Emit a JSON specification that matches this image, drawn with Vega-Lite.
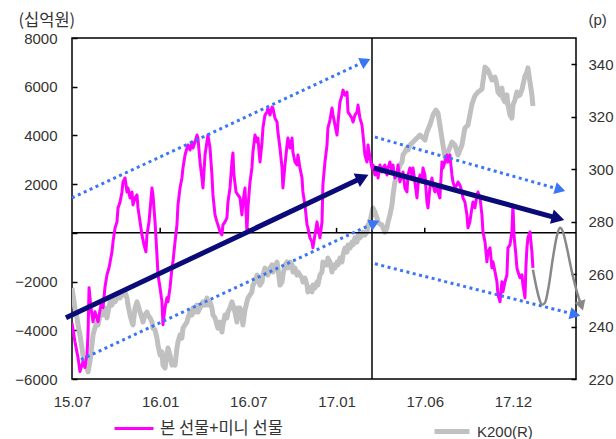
{
"$schema":"https://vega.github.io/schema/vega-lite/v6.json",
"width":504,"height":341,"autosize":"none",
"padding":{"left":72,"top":38,"right":40,"bottom":60},
"background":"white",
"config":{
"view":{"stroke":"black","strokeWidth":1.5},
"axis":{"labelFont":"Liberation Sans","labelFontSize":15,"labelColor":"#333","grid":false,"domain":false,"tickColor":"black","tickWidth":1.5,"titleFontWeight":"normal","titleFont":"Noto Sans CJK KR","titleFontSize":16.5,"titleColor":"#333"},
"legend":{"orient":"none","direction":"horizontal","symbolType":"stroke","labelColor":"#333","labelOffset":5,"padding":0,"labelLimit":300}
},
"datasets":{
"mag":[{"t":0,"v":-3700},{"t":0.2,"v":-4467},{"t":0.41,"v":-5123},{"t":0.54,"v":-5696},{"t":0.75,"v":-5286},{"t":0.88,"v":-5532},{"t":1.02,"v":-5000},{"t":1.09,"v":-4180},{"t":1.16,"v":-2254},{"t":1.29,"v":-3074},{"t":1.43,"v":-3647},{"t":1.56,"v":-3237},{"t":1.77,"v":-3647},{"t":1.97,"v":-2951},{"t":2.11,"v":-3074},{"t":2.24,"v":-2254},{"t":2.38,"v":-1721},{"t":2.52,"v":-1434},{"t":2.72,"v":-779},{"t":2.79,"v":-369},{"t":2.93,"v":205},{"t":3.06,"v":451},{"t":3.13,"v":1025},{"t":3.27,"v":1270},{"t":3.4,"v":1680},{"t":3.47,"v":2090},{"t":3.61,"v":2254},{"t":3.74,"v":1680},{"t":3.81,"v":1844},{"t":3.95,"v":1434},{"t":4.08,"v":1680},{"t":4.15,"v":1147},{"t":4.29,"v":1434},{"t":4.42,"v":1557},{"t":4.49,"v":1025},{"t":4.63,"v":451},{"t":4.76,"v":-82},{"t":4.9,"v":-492},{"t":5.03,"v":-779},{"t":5.1,"v":-82},{"t":5.24,"v":451},{"t":5.44,"v":1844},{"t":5.51,"v":1557},{"t":5.65,"v":451},{"t":5.78,"v":-902},{"t":5.85,"v":-1721},{"t":5.99,"v":-2254},{"t":6.12,"v":-2828},{"t":6.19,"v":-3770},{"t":6.33,"v":-3074},{"t":6.46,"v":-2664},{"t":6.53,"v":-2828},{"t":6.67,"v":-2254},{"t":6.8,"v":-1434},{"t":6.87,"v":-1188},{"t":7.01,"v":-369},{"t":7.14,"v":328},{"t":7.21,"v":1147},{"t":7.35,"v":1844},{"t":7.48,"v":2254},{"t":7.55,"v":2664},{"t":7.69,"v":3196},{"t":7.82,"v":3483},{"t":7.89,"v":3606},{"t":8.03,"v":3401},{"t":8.16,"v":3729},{"t":8.23,"v":3483},{"t":8.37,"v":3729},{"t":8.5,"v":4016},{"t":8.57,"v":3893},{"t":8.71,"v":2910},{"t":8.84,"v":2254},{"t":8.91,"v":1844},{"t":9.05,"v":3196},{"t":9.18,"v":3729},{"t":9.25,"v":4016},{"t":9.39,"v":3483},{"t":9.52,"v":2377},{"t":9.59,"v":1557},{"t":9.73,"v":738},{"t":9.86,"v":451},{"t":9.93,"v":328},{"t":10.07,"v":41},{"t":10.2,"v":-82},{"t":10.27,"v":328},{"t":10.41,"v":451},{"t":10.54,"v":615},{"t":10.61,"v":1270},{"t":10.75,"v":1844},{"t":10.88,"v":2910},{"t":10.95,"v":3278},{"t":11.02,"v":2377},{"t":11.16,"v":1680},{"t":11.29,"v":1557},{"t":11.43,"v":1434},{"t":11.56,"v":738},{"t":11.63,"v":1270},{"t":11.77,"v":1844},{"t":11.9,"v":41},{"t":11.97,"v":1025},{"t":12.11,"v":2090},{"t":12.24,"v":2664},{"t":12.31,"v":3319},{"t":12.45,"v":4016},{"t":12.59,"v":3729},{"t":12.65,"v":3893},{"t":12.79,"v":2910},{"t":12.93,"v":3729},{"t":12.99,"v":4303},{"t":13.13,"v":4836},{"t":13.27,"v":4959},{"t":13.33,"v":5123},{"t":13.47,"v":4836},{"t":13.61,"v":5163},{"t":13.67,"v":5123},{"t":13.81,"v":4713},{"t":13.95,"v":4549},{"t":14.01,"v":4139},{"t":14.15,"v":3483},{"t":14.29,"v":2664},{"t":14.35,"v":1844},{"t":14.49,"v":2787},{"t":14.63,"v":3606},{"t":14.69,"v":3893},{"t":14.83,"v":3483},{"t":14.97,"v":3893},{"t":15.03,"v":3319},{"t":15.17,"v":2910},{"t":15.31,"v":2787},{"t":15.37,"v":3196},{"t":15.51,"v":2664},{"t":15.65,"v":2254},{"t":15.71,"v":1680},{"t":15.85,"v":1147},{"t":15.99,"v":328},{"t":16.05,"v":205},{"t":16.19,"v":-205},{"t":16.33,"v":-369},{"t":16.39,"v":-615},{"t":16.53,"v":-82},{"t":16.67,"v":451},{"t":16.73,"v":205},{"t":16.87,"v":-205},{"t":17.01,"v":451},{"t":17.07,"v":1967},{"t":17.21,"v":2910},{"t":17.35,"v":3606},{"t":17.41,"v":4303},{"t":17.55,"v":4631},{"t":17.69,"v":5123},{"t":17.76,"v":4836},{"t":17.89,"v":4426},{"t":18.03,"v":4016},{"t":18.1,"v":4549},{"t":18.23,"v":5368},{"t":18.37,"v":5655},{"t":18.44,"v":5860},{"t":18.57,"v":5655},{"t":18.71,"v":5778},{"t":18.78,"v":4959},{"t":18.91,"v":4836},{"t":19.05,"v":4713},{"t":19.12,"v":4549},{"t":19.25,"v":4836},{"t":19.39,"v":4959},{"t":19.46,"v":5245},{"t":19.59,"v":4713},{"t":19.73,"v":4426},{"t":19.8,"v":4016},{"t":19.93,"v":3196},{"t":20.07,"v":2910},{"t":20.14,"v":3606},{"t":20.27,"v":3074},{"t":20.41,"v":2664},{"t":20.48,"v":2787},{"t":20.61,"v":2377},{"t":20.75,"v":2664},{"t":20.82,"v":2254},{"t":20.95,"v":2787},{"t":21.09,"v":2500},{"t":21.16,"v":2664},{"t":21.29,"v":2787},{"t":21.43,"v":2377},{"t":21.5,"v":2664},{"t":21.63,"v":2910},{"t":21.77,"v":2500},{"t":21.84,"v":2787},{"t":21.97,"v":2254},{"t":22.11,"v":2377},{"t":22.18,"v":2787},{"t":22.31,"v":2090},{"t":22.45,"v":2377},{"t":22.52,"v":2500},{"t":22.65,"v":1844},{"t":22.79,"v":1680},{"t":22.86,"v":2377},{"t":22.99,"v":2664},{"t":23.13,"v":2377},{"t":23.2,"v":2664},{"t":23.33,"v":2090},{"t":23.47,"v":1434},{"t":23.54,"v":1967},{"t":23.67,"v":2377},{"t":23.81,"v":2090},{"t":23.88,"v":2664},{"t":24.01,"v":2377},{"t":24.15,"v":1270},{"t":24.22,"v":1025},{"t":24.35,"v":1844},{"t":24.49,"v":2254},{"t":24.56,"v":1967},{"t":24.69,"v":1680},{"t":24.83,"v":1844},{"t":24.9,"v":1680},{"t":25.03,"v":1434},{"t":25.17,"v":2910},{"t":25.24,"v":2664},{"t":25.37,"v":2910},{"t":25.51,"v":3196},{"t":25.58,"v":2910},{"t":25.71,"v":3196},{"t":25.85,"v":2377},{"t":25.92,"v":2090},{"t":26.05,"v":1844},{"t":26.19,"v":1967},{"t":26.26,"v":2090},{"t":26.39,"v":1967},{"t":26.53,"v":1680},{"t":26.6,"v":1434},{"t":26.73,"v":1270},{"t":26.87,"v":738},{"t":26.94,"v":205},{"t":27.07,"v":451},{"t":27.21,"v":1025},{"t":27.28,"v":1270},{"t":27.41,"v":1025},{"t":27.55,"v":1557},{"t":27.62,"v":1680},{"t":27.76,"v":1434},{"t":27.89,"v":738},{"t":27.96,"v":41},{"t":28.1,"v":-369},{"t":28.23,"v":-1188},{"t":28.3,"v":-779},{"t":28.44,"v":-615},{"t":28.57,"v":-1434},{"t":28.64,"v":-1188},{"t":28.78,"v":-1598},{"t":28.91,"v":-2008},{"t":28.98,"v":-2541},{"t":29.12,"v":-2828},{"t":29.25,"v":-2008},{"t":29.32,"v":-2418},{"t":29.46,"v":-2008},{"t":29.59,"v":-1721},{"t":29.66,"v":-615},{"t":29.8,"v":-492},{"t":29.93,"v":41},{"t":30,"v":1147},{"t":30.07,"v":-82},{"t":30.2,"v":-902},{"t":30.27,"v":-1434},{"t":30.34,"v":-1598},{"t":30.48,"v":-1844},{"t":30.61,"v":-1721},{"t":30.68,"v":-2131},{"t":30.82,"v":-2664},{"t":30.88,"v":-1434},{"t":30.95,"v":-615},{"t":31.02,"v":-205},{"t":31.16,"v":41},{"t":31.29,"v":-779},{"t":31.36,"v":-1434}],
"k200":[{"t":0,"v":254.7},{"t":0.07,"v":252},{"t":0.2,"v":247.1},{"t":0.34,"v":243.3},{"t":0.41,"v":240.6},{"t":0.54,"v":236.8},{"t":0.68,"v":231.8},{"t":0.75,"v":229.1},{"t":0.88,"v":225.3},{"t":1.02,"v":224.2},{"t":1.09,"v":222.7},{"t":1.22,"v":226.5},{"t":1.36,"v":233},{"t":1.43,"v":236.8},{"t":1.56,"v":239.4},{"t":1.7,"v":241.7},{"t":1.77,"v":240.6},{"t":1.9,"v":244.4},{"t":2.04,"v":245.5},{"t":2.11,"v":244.4},{"t":2.24,"v":247.1},{"t":2.38,"v":243.3},{"t":2.45,"v":245.5},{"t":2.59,"v":249.4},{"t":2.72,"v":248.2},{"t":2.79,"v":250.9},{"t":2.93,"v":249.4},{"t":3.06,"v":250.9},{"t":3.13,"v":252},{"t":3.27,"v":250.9},{"t":3.4,"v":253.2},{"t":3.47,"v":252},{"t":3.61,"v":253.2},{"t":3.74,"v":250.9},{"t":3.81,"v":248.2},{"t":3.95,"v":244.4},{"t":4.08,"v":241.7},{"t":4.15,"v":240.6},{"t":4.29,"v":247.1},{"t":4.42,"v":249.4},{"t":4.49,"v":248.2},{"t":4.63,"v":245.5},{"t":4.76,"v":243.3},{"t":4.83,"v":241.7},{"t":4.97,"v":244.4},{"t":5.1,"v":245.5},{"t":5.17,"v":244.4},{"t":5.31,"v":243.3},{"t":5.44,"v":241.7},{"t":5.51,"v":239.4},{"t":5.65,"v":238.7},{"t":5.78,"v":235.6},{"t":5.85,"v":233},{"t":5.99,"v":229.1},{"t":6.12,"v":230.3},{"t":6.19,"v":225.3},{"t":6.33,"v":224.2},{"t":6.46,"v":229.1},{"t":6.53,"v":231.8},{"t":6.67,"v":229.1},{"t":6.8,"v":225.3},{"t":6.87,"v":226.5},{"t":7.01,"v":225.3},{"t":7.14,"v":231.8},{"t":7.21,"v":234.1},{"t":7.35,"v":236.8},{"t":7.48,"v":235.6},{"t":7.55,"v":239.4},{"t":7.69,"v":240.6},{"t":7.82,"v":241.7},{"t":7.89,"v":243.3},{"t":8.03,"v":245.5},{"t":8.16,"v":244.4},{"t":8.23,"v":247.1},{"t":8.37,"v":245.5},{"t":8.5,"v":248.2},{"t":8.57,"v":245.5},{"t":8.71,"v":247.1},{"t":8.84,"v":248.2},{"t":8.91,"v":249.4},{"t":9.05,"v":248.2},{"t":9.18,"v":250.9},{"t":9.25,"v":248.2},{"t":9.39,"v":249.4},{"t":9.52,"v":247.1},{"t":9.59,"v":244.4},{"t":9.73,"v":243.3},{"t":9.86,"v":240.6},{"t":9.93,"v":239.4},{"t":10.07,"v":241.7},{"t":10.2,"v":237.9},{"t":10.27,"v":240.6},{"t":10.41,"v":244.4},{"t":10.54,"v":243.3},{"t":10.61,"v":245.5},{"t":10.75,"v":247.1},{"t":10.88,"v":249.4},{"t":10.95,"v":248.2},{"t":11.09,"v":245.5},{"t":11.22,"v":241.7},{"t":11.29,"v":247.1},{"t":11.43,"v":247.1},{"t":11.56,"v":243.3},{"t":11.63,"v":240.6},{"t":11.77,"v":246.3},{"t":11.9,"v":249.4},{"t":11.97,"v":250.9},{"t":12.11,"v":252},{"t":12.24,"v":253.2},{"t":12.31,"v":255.8},{"t":12.45,"v":257},{"t":12.59,"v":259.6},{"t":12.65,"v":258.5},{"t":12.79,"v":255.8},{"t":12.93,"v":257},{"t":12.99,"v":259.6},{"t":13.13,"v":262.3},{"t":13.27,"v":260.8},{"t":13.33,"v":259.6},{"t":13.47,"v":262.3},{"t":13.61,"v":263.5},{"t":13.67,"v":260.8},{"t":13.81,"v":262.3},{"t":13.95,"v":264.6},{"t":14.01,"v":262.3},{"t":14.15,"v":255.8},{"t":14.29,"v":257},{"t":14.35,"v":259.6},{"t":14.49,"v":263.5},{"t":14.63,"v":264.6},{"t":14.69,"v":262.3},{"t":14.83,"v":264.6},{"t":14.97,"v":263.5},{"t":15.03,"v":260.8},{"t":15.17,"v":262.3},{"t":15.31,"v":259.6},{"t":15.37,"v":260.8},{"t":15.51,"v":259.6},{"t":15.65,"v":258.5},{"t":15.71,"v":257},{"t":15.85,"v":258.5},{"t":15.99,"v":255.8},{"t":16.05,"v":253.2},{"t":16.19,"v":254.7},{"t":16.33,"v":253.2},{"t":16.39,"v":255.8},{"t":16.53,"v":254.7},{"t":16.67,"v":257},{"t":16.73,"v":255.8},{"t":16.87,"v":259.6},{"t":17.01,"v":260.8},{"t":17.07,"v":264.6},{"t":17.21,"v":263.5},{"t":17.35,"v":263.5},{"t":17.41,"v":266.1},{"t":17.55,"v":264.6},{"t":17.69,"v":260.8},{"t":17.76,"v":263.5},{"t":17.89,"v":262.3},{"t":18.03,"v":264.6},{"t":18.1,"v":263.5},{"t":18.23,"v":266.1},{"t":18.37,"v":264.6},{"t":18.44,"v":267.3},{"t":18.57,"v":269.9},{"t":18.71,"v":268.4},{"t":18.78,"v":271.1},{"t":18.91,"v":269.9},{"t":19.05,"v":272.2},{"t":19.12,"v":271.1},{"t":19.25,"v":273.8},{"t":19.39,"v":272.2},{"t":19.46,"v":274.9},{"t":19.59,"v":273.8},{"t":19.73,"v":274.9},{"t":19.8,"v":276},{"t":19.93,"v":274.9},{"t":20.07,"v":276},{"t":20.14,"v":278.7},{"t":20.27,"v":279.8},{"t":20.41,"v":283.7},{"t":20.48,"v":285.2},{"t":20.61,"v":283.7},{"t":20.75,"v":281.4},{"t":20.82,"v":279.8},{"t":20.95,"v":279.1},{"t":21.09,"v":278.7},{"t":21.16,"v":277.6},{"t":21.29,"v":276},{"t":21.43,"v":277.6},{"t":21.5,"v":279.8},{"t":21.63,"v":282.5},{"t":21.77,"v":286.3},{"t":21.84,"v":290.1},{"t":21.97,"v":295.1},{"t":22.11,"v":297.8},{"t":22.18,"v":298.9},{"t":22.31,"v":301.6},{"t":22.45,"v":302.7},{"t":22.52,"v":305.4},{"t":22.65,"v":306.5},{"t":22.79,"v":308.1},{"t":22.86,"v":307.3},{"t":22.99,"v":309.2},{"t":23.2,"v":310.3},{"t":23.47,"v":311.9},{"t":23.67,"v":313},{"t":23.88,"v":311.9},{"t":24.01,"v":311.1},{"t":24.15,"v":314.2},{"t":24.35,"v":316.8},{"t":24.56,"v":320.6},{"t":24.76,"v":322.5},{"t":24.9,"v":321.4},{"t":25.03,"v":316.8},{"t":25.24,"v":309.2},{"t":25.44,"v":302.7},{"t":25.58,"v":306.5},{"t":25.85,"v":310.3},{"t":26.05,"v":309.2},{"t":26.26,"v":305.4},{"t":26.53,"v":309.2},{"t":26.73,"v":315.7},{"t":26.94,"v":316.8},{"t":27.21,"v":324.8},{"t":27.41,"v":327.9},{"t":27.62,"v":329.4},{"t":27.89,"v":330.5},{"t":28.1,"v":338.9},{"t":28.3,"v":337.8},{"t":28.57,"v":334},{"t":28.78,"v":335.1},{"t":28.91,"v":332.1},{"t":28.98,"v":329.4},{"t":29.12,"v":328.3},{"t":29.25,"v":330.9},{"t":29.32,"v":327.1},{"t":29.46,"v":325.6},{"t":29.59,"v":328.3},{"t":29.66,"v":324.5},{"t":29.8,"v":320.6},{"t":29.93,"v":319.5},{"t":30,"v":324.5},{"t":30.14,"v":326.4},{"t":30.27,"v":329.4},{"t":30.34,"v":327.9},{"t":30.48,"v":328.3},{"t":30.61,"v":330.2},{"t":30.68,"v":332.1},{"t":30.82,"v":335.5},{"t":30.95,"v":337},{"t":31.02,"v":338.6},{"t":31.16,"v":333.2},{"t":31.29,"v":328.3},{"t":31.36,"v":324.1}],
"ann":[{"g":"zero","t":0,"v":0},{"g":"zero","t":34.29,"v":0},{"g":"vline","t":20.41,"v":-6000},{"g":"vline","t":20.41,"v":8000},
{"g":"tk6","t":6,"v":0},{"g":"tk6","t":6,"v":205},{"g":"tk12","t":12,"v":0},{"g":"tk12","t":12,"v":205},{"g":"tk18","t":18,"v":0},{"g":"tk18","t":18,"v":205},{"g":"tk24","t":24,"v":0},{"g":"tk24","t":24,"v":205},{"g":"tk30","t":30,"v":0},{"g":"tk30","t":30,"v":205},
{"g":"nav1","t":-0.41,"v":-3483},{"g":"nav1","t":19.77,"v":2270},{"g":"nav2","t":20.54,"v":2664},{"g":"nav2","t":33.07,"v":598},
{"g":"d1","t":0,"v":1434},{"g":"d1","t":19.97,"v":7045},{"g":"d2","t":0.61,"v":-5204},{"g":"d2","t":20.58,"v":406},{"g":"d3","t":20.61,"v":3934},{"g":"d3","t":33.21,"v":1778},{"g":"d4","t":20.61,"v":-1270},{"g":"d4","t":34.23,"v":-3352},
{"g":"wave","t":31.36,"v":-1516},{"g":"wave","t":31.56,"v":-2131},{"g":"wave","t":31.77,"v":-2664},{"g":"wave","t":31.97,"v":-2951},{"g":"wave","t":32.18,"v":-2869},{"g":"wave","t":32.45,"v":-2131},{"g":"wave","t":32.72,"v":-1025},{"g":"wave","t":32.99,"v":-123},{"g":"wave","t":33.2,"v":205},{"g":"wave","t":33.4,"v":41},{"g":"wave","t":33.67,"v":-615},{"g":"wave","t":34.01,"v":-1598},{"g":"wave","t":34.35,"v":-2418},{"g":"wave","t":34.6,"v":-2900}],
"heads":[{"g":"nav1","t":19.77,"v":2270},{"g":"nav2","t":33.07,"v":598},{"g":"d1","t":19.97,"v":7045},{"g":"d2","t":20.58,"v":406},{"g":"d3","t":33.21,"v":1778},{"g":"d4","t":34.23,"v":-3352},{"g":"wave","t":34.66,"v":-2992}]
},
"encoding":{"x":{"field":"t","type":"quantitative","title":null,"scale":{"domain":[0,34.29],"nice":false,"zero":false},"axis":{"values":[0,6,12,18,24,30],"labelExpr":"['15.07','16.01','16.07','17.01','17.06','17.12'][round(datum.value/6)]","ticks":false,"labelFlush":false,"labelPadding":15}}},
"layer":[
{"data":{"name":"k200"},"mark":{"type":"line","strokeWidth":5,"strokeJoin":"round","clip":true},
"encoding":{"y":{"field":"v","type":"quantitative","title":"(p)","scale":{"domain":[220,350],"nice":false,"zero":false},"axis":{"orient":"right","values":[220,240,260,280,300,320,340],"tickSize":-5,"labelPadding":17,"titleAngle":0,"titleAlign":"left","titleBaseline":"middle","titleX":12,"titleY":-19,"titleFont":"Liberation Sans","titleFontSize":15}},
"stroke":{"datum":"K200(R)","type":"nominal","title":null,"scale":{"domain":["K200(R)"],"range":["#C0C0C0"]},"legend":{"legendX":360,"legendY":373.5,"symbolSize":1225,"symbolStrokeWidth":5,"labelFont":"Liberation Sans","labelFontSize":15}}}},
{"encoding":{"y":{"field":"v","type":"quantitative","title":"(십억원)","scale":{"domain":[-6000,8000],"nice":false,"zero":false},"axis":{"orient":"left","values":[-6000,-4000,-2000,0,2000,4000,6000,8000],"format":"d","labelExpr":"datum.value == 0 ? '' : datum.label","tickSize":-5,"labelPadding":20,"titleAngle":0,"titleAlign":"left","titleBaseline":"middle","titleX":-54,"titleY":-18}}},
"layer":[
{"data":{"name":"ann"},"transform":[{"filter":"datum.g=='zero' || datum.g=='vline' || indexof(datum.g,'tk')==0"}],"mark":{"type":"line","color":"black","strokeWidth":1.5},"encoding":{"detail":{"field":"g"}}},
{"data":{"name":"mag"},"mark":{"type":"line","strokeWidth":3,"strokeJoin":"round","clip":true},"encoding":{"color":{"datum":"본 선물+미니 선물","type":"nominal","title":null,"scale":{"domain":["본 선물+미니 선물"],"range":["#FF00FF"]},"legend":{"legendX":41,"legendY":369.5,"symbolSize":1521,"symbolStrokeWidth":3,"labelFont":"Noto Sans CJK KR","labelFontSize":16.5}}}},
{"data":{"name":"ann"},"transform":[{"filter":"indexof(datum.g,'d')==0"}],"mark":{"type":"line","color":"#3a76f5","strokeWidth":3,"strokeDash":[3,3.5],"clip":false},"encoding":{"detail":{"field":"g"}}},
{"data":{"name":"ann"},"transform":[{"filter":"indexof(datum.g,'nav')==0"}],"mark":{"type":"line","color":"#0a0a78","strokeWidth":5,"clip":false},"encoding":{"detail":{"field":"g"}}},
{"data":{"name":"ann"},"transform":[{"filter":"datum.g=='wave'"}],"mark":{"type":"line","color":"#888888","strokeWidth":2.5,"interpolate":"monotone","clip":false}},
{"data":{"name":"heads"},"transform":[{"filter":"datum.g=='nav1'"}],"mark":{"type":"point","shape":"triangle-up","filled":true,"opacity":1,"size":220,"angle":65,"color":"#0a0a78","clip":false}},
{"data":{"name":"heads"},"transform":[{"filter":"datum.g=='nav2'"}],"mark":{"type":"point","shape":"triangle-up","filled":true,"opacity":1,"size":220,"angle":105,"color":"#0a0a78","clip":false}},
{"data":{"name":"heads"},"transform":[{"filter":"datum.g=='d1' || datum.g=='d2'"}],"mark":{"type":"point","shape":"triangle-up","filled":true,"opacity":1,"size":150,"angle":65,"color":"#3a76f5","clip":false}},
{"data":{"name":"heads"},"transform":[{"filter":"datum.g=='d3'"}],"mark":{"type":"point","shape":"triangle-up","filled":true,"opacity":1,"size":150,"angle":106,"color":"#3a76f5","clip":false}},
{"data":{"name":"heads"},"transform":[{"filter":"datum.g=='d4'"}],"mark":{"type":"point","shape":"triangle-up","filled":true,"opacity":1,"size":150,"angle":104,"color":"#3a76f5","clip":false}},
{"data":{"name":"heads"},"transform":[{"filter":"datum.g=='wave'"}],"mark":{"type":"point","shape":"triangle-up","filled":true,"opacity":1,"size":130,"angle":162,"color":"#888888","clip":false}}
]}
],
"resolve":{"scale":{"y":"independent"}}
}
